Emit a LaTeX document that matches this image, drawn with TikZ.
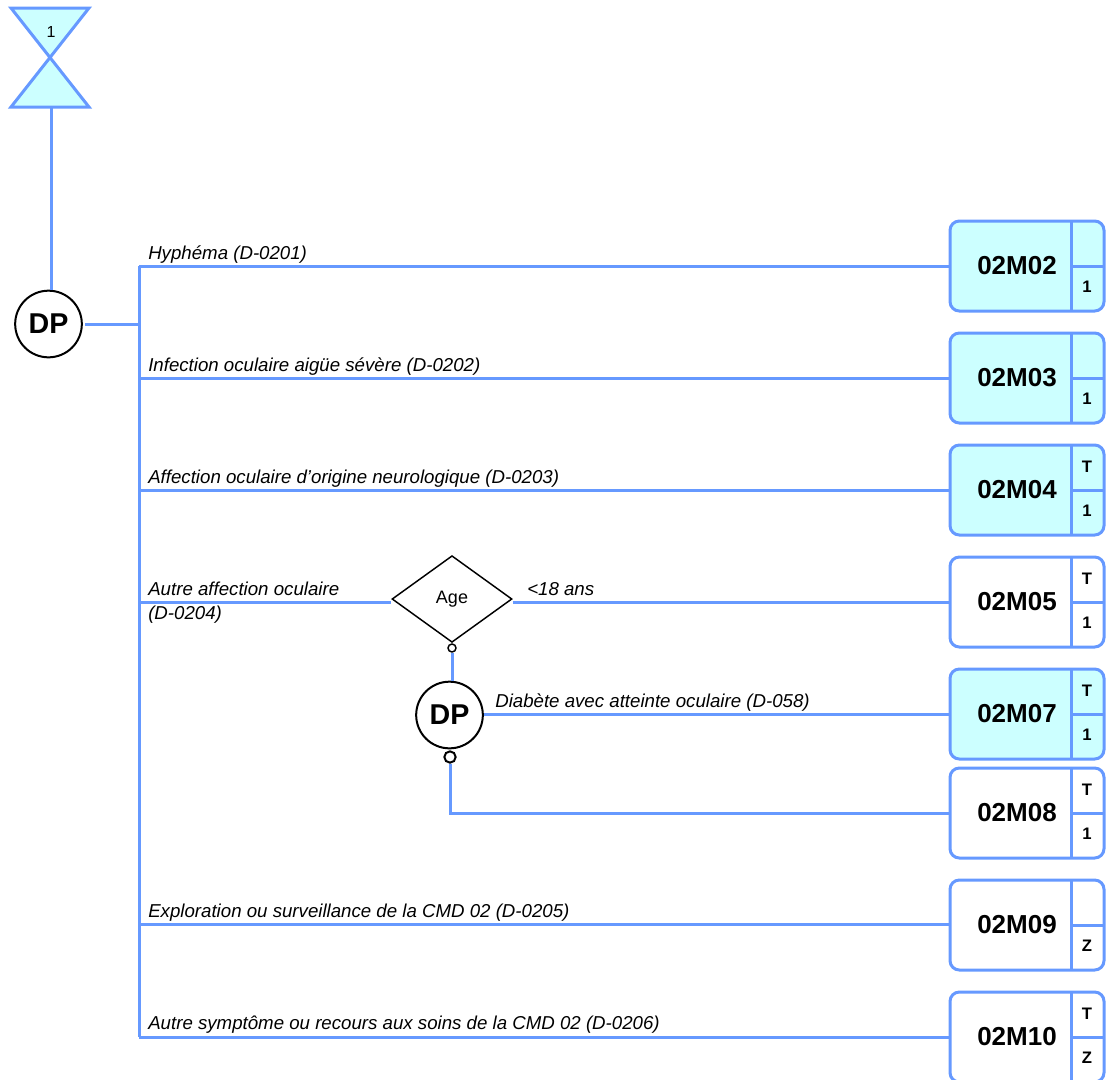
\documentclass[tikz,border=0pt]{standalone}
\usepackage{fontspec}
\setmainfont{Liberation Sans}
\definecolor{flowblue}{HTML}{6699FF}
\definecolor{palecyan}{HTML}{CCFFFF}
\tikzset{
    every edge/.style={
        draw=flowblue,
        line width=2.25pt},
    flow/.style={
        draw=flowblue,
        line width=2.25pt},
    decision/.style={
        circle,
        draw=black,
        line width=1.5pt,
        fill=white,
        minimum size=50pt,
        inner sep=0pt,
        font=\fontsize{21.5}{21.5}\selectfont\bfseries},
    age/.style={
        diamond,
        draw=black,
        line width=1.1pt,
        fill=white,
        minimum width=90pt,
        minimum height=65pt,
        inner sep=0pt,
        font=\fontsize{13.5}{13.5}\selectfont},
    hole/.style={
        circle,
        draw=black,
        fill=white,
        inner sep=0pt},
    module/.style={
        draw=flowblue,
        line width=2.25pt,
        rounded corners=7pt,
        minimum width=115.5pt,
        minimum height=67.5pt},
    code/.style={font=\fontsize{19.5}{19.5}\selectfont\bfseries},
    flag/.style={font=\fontsize{12.5}{12.5}\selectfont\bfseries},
    branch/.style={anchor=base west,inner sep=0pt,font=\fontsize{14}{14}\selectfont\itshape}
}
% name, centre y, fill, code, upper flag, lower flag
\newcommand{\modulebox}[6]{
    \node[module,fill=#3] (#1) at (1027,#2) {};
    \draw[flow] (1071,{#2-45}) -- (1071,{#2+45});
    \draw[flow] (1071,#2) -- (1104,#2);
    \node[code] (#1c) at (1017,#2) {#4};
    \node[flag] (#1t) at (1087,{#2-23}) {#5};
    \node[flag] (#1b) at (1087,{#2+21}) {#6};
}
\usetikzlibrary{shapes.geometric}
\begin{document}
\begin{tikzpicture}[x=0.75pt,y=-0.75pt]
    \clip (0,0) rectangle (1113,1079);

    % start marker
    \draw[flow,fill=palecyan,line join=miter] (11,8) -- (89,8) -- (11,107) -- (89,107) -- cycle;
    \node[font=\fontsize{12}{12}\selectfont] (start) at (51,32) {1};
    \coordinate (startb) at (51.5,107);

    \node[decision] (dp) at (48.5,324) {DP};
    \draw (startb) edge (startb |- dp.north);

    % trunk
    \coordinate (t1) at (139,266);
    \coordinate (t2) at (139,378);
    \coordinate (t3) at (139,490);
    \coordinate (t4) at (139,602);
    \coordinate (t5) at (139,924);
    \coordinate (t6) at (139,1037);
    \coordinate (dpe) at (85,324);
    \draw[flow] (t1) -- (t6);
    \draw (dpe) edge (dpe -| t1);

    \modulebox{m02}{266}{palecyan}{02M02}{}{1}
    \modulebox{m03}{378}{palecyan}{02M03}{}{1}
    \modulebox{m04}{490}{palecyan}{02M04}{T}{1}
    \modulebox{m05}{602}{white}{02M05}{T}{1}
    \modulebox{m07}{714}{palecyan}{02M07}{T}{1}
    \modulebox{m08}{813}{white}{02M08}{T}{1}
    \modulebox{m09}{925}{white}{02M09}{}{Z}
    \modulebox{m10}{1037}{white}{02M10}{T}{Z}

    \draw (t1) edge (m02);
    \draw (t2) edge (m03);
    \draw (t3) edge (m04);
    \draw (t5) edge (t5 -| m09.west);
    \draw (t6) edge (m10);

    % age branch
    \node[age] (age) at (452,599) {Age};
    \node[hole,line width=1.1pt,minimum size=6pt] (open1) at (452,648) {};
    \node[decision] (dp2) at (449.5,715) {DP};
    \node[hole,line width=1.5pt,minimum size=8.5pt] (open2) at (450,757) {};
    \draw (t4) edge (t4 -| age.west);
    \draw (age.east |- t4) edge (t4 -| m05.west);
    \draw (open1) edge (open1 |- dp2.north);
    \draw (dp2.east |- m07) edge (m07);
    \draw[flow] (open2) |- (m08);

    \node[branch] (l1) at (148,259) {Hyphéma (D-0201)};
    \node[branch] (l2) at (148,371) {Infection oculaire aigüe sévère (D-0202)};
    \node[branch] (l3) at (148,483) {Affection oculaire d'origine neurologique (D-0203)};
    \node[branch] (l4) at (148,595) {Autre affection oculaire};
    \node[branch] (l4b) at (148,619) {(D-0204)};
    \node[branch] (l5) at (527,595) {<18 ans};
    \node[branch] (l6) at (495,707) {Diabète avec atteinte oculaire (D-058)};
    \node[branch] (l7) at (148,917) {Exploration ou surveillance de la CMD 02 (D-0205)};
    \node[branch] (l8) at (148,1029) {Autre symptôme ou recours aux soins de la CMD 02 (D-0206)};
\end{tikzpicture}
\end{document}
